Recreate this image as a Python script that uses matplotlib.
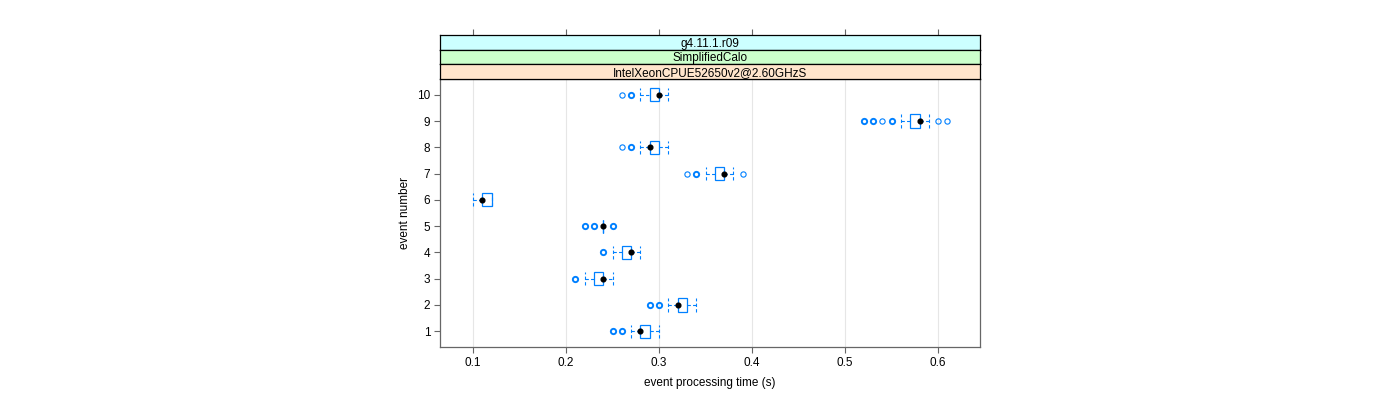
"""Event processing time per event number, lattice-style box plot."""

import matplotlib
matplotlib.use("Agg")
import matplotlib.pyplot as plt
import numpy as np

events = [1, 2, 3, 4, 5, 6, 7, 8, 9, 10]
medians = [0.28, 0.32, 0.24, 0.27, 0.24, 0.11, 0.37, 0.29, 0.58, 0.30]
q1 = [0.28, 0.32, 0.23, 0.26, 0.24, 0.11, 0.36, 0.29, 0.57, 0.29]
q3 = [0.29, 0.33, 0.24, 0.27, 0.24, 0.12, 0.37, 0.30, 0.58, 0.30]
whisk_lo = [0.27, 0.31, 0.22, 0.25, 0.24, 0.10, 0.35, 0.28, 0.56, 0.28]
whisk_hi = [0.30, 0.34, 0.25, 0.28, 0.24, 0.12, 0.38, 0.31, 0.59, 0.31]
outliers = [
    [0.25, 0.25, 0.26, 0.26],
    [0.29, 0.29, 0.30, 0.30],
    [0.21, 0.21],
    [0.24, 0.24],
    [0.22, 0.22, 0.23, 0.23, 0.25, 0.25],
    [],
    [0.33, 0.34, 0.34, 0.39],
    [0.26, 0.27, 0.27],
    [0.52, 0.52, 0.53, 0.53, 0.54, 0.55, 0.55, 0.60, 0.61],
    [0.26, 0.27, 0.27],
]
x_ticks = [0.1, 0.2, 0.3, 0.4, 0.5, 0.6]
strip_labels = ["g4.11.1.r09", "SimplifiedCalo", "IntelXeonCPUE52650v2@2.60GHzS"]
strip_colors = ["#ccffff", "#ccffcc", "#ffe5cc"]

plt.rcParams["font.family"] = ["Liberation Sans", "DejaVu Sans"]
plt.rcParams["font.size"] = 8.5

blue = "#0080ff"
frame = "#666666"

fig = plt.figure(figsize=(14, 4), dpi=100)
ax = fig.add_axes([440 / 1400, 1 - 347 / 400, 540 / 1400, 268 / 400])

half = 0.25
dash = (0, (3, 2))
for i, ev in enumerate(events):
    # whiskers and caps
    ax.plot([whisk_lo[i], q1[i]], [ev, ev], color=blue, lw=0.8, ls=dash)
    ax.plot([q3[i], whisk_hi[i]], [ev, ev], color=blue, lw=0.8, ls=dash)
    for xc in (whisk_lo[i], whisk_hi[i]):
        ax.plot([xc, xc], [ev - half, ev + half], color=blue, lw=0.8, ls=dash)
    # box
    ax.add_patch(plt.Rectangle((q1[i], ev - half), q3[i] - q1[i], 2 * half,
                               fill=False, ec=blue, lw=0.9))
    # outliers, thicker where several points overlap
    vals, counts = np.unique(outliers[i], return_counts=True)
    for v, c in zip(vals, counts):
        ax.plot(v, ev, "o", ms=3.8, mfc="none", mec=blue, mew=0.8 if c == 1 else 1.4)
    ax.plot(medians[i], ev, "o", ms=3.4, color="black")

ax.set_xlim(0.0645, 0.645)
ax.set_ylim(0.4, 10.6)
ax.set_xticks(x_ticks)
ax.set_xticklabels([f"{t:g}" for t in x_ticks])
ax.set_yticks(events)
ax.grid(axis="x", color="#e6e6e6", lw=0.8)
ax.set_axisbelow(True)
ax.tick_params(direction="out", length=4, color=frame, pad=3, top=False, right=False)
for s in ax.spines.values():
    s.set_color(frame)
    s.set_linewidth(0.9)
ax.set_xlabel("event processing time (s)", labelpad=6)
ax.set_ylabel("event number", labelpad=4)

# strips stacked above the panel: bottom strip is the first factor
strip_h = 14.67
for k, (lab, col) in enumerate(zip(strip_labels, strip_colors)):
    top_px = 35 + k * strip_h
    sax = fig.add_axes([440 / 1400, 1 - (top_px + strip_h) / 400, 540 / 1400, strip_h / 400],
                       sharex=ax)
    sax.set_facecolor(col)
    sax.set_yticks([])
    sax.text(0.5, 0.42, lab, transform=sax.transAxes, ha="center", va="center")
    for s in sax.spines.values():
        s.set_color("black")
        s.set_linewidth(0.9)
    if k == 0:
        sax.tick_params(axis="x", direction="out", length=4, color=frame,
                        top=True, bottom=False, labeltop=False, labelbottom=False)
    else:
        sax.tick_params(axis="x", length=0, labelbottom=False)

fig.savefig("out.png", dpi=100)
